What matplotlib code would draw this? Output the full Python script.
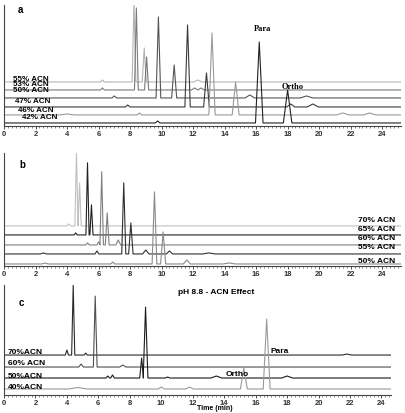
# Chromatograms of the para/ortho separation at different ACN contents
# (a, b) and the pH 8.8 ACN effect (c).

import matplotlib
matplotlib.use('Agg')
import matplotlib.pyplot as plt
from matplotlib.ticker import MultipleLocator
from matplotlib import rcParams

rcParams['font.family'] = ['Liberation Sans', 'DejaVu Sans']
rcParams['font.weight'] = 'bold'

# peaks are (retention time in min, height above baseline, half width at base)
a_labels = ['55% ACN', '53% ACN', '50% ACN', '47% ACN', '46% ACN', '42% ACN']
a_offsets = [44, 36, 28, 19, 11, 3]
a_peaks = [
    [(6.25, 2, 0.12), (8.25, 80, 0.12), (8.9, 34, 0.13), (12.3, 2, 0.25)],
    [(6.25, 2, 0.12), (8.4, 82, 0.12), (9.05, 33, 0.13), (12.1, 2, 0.2), (12.5, 2, 0.2)],
    [(7.0, 2, 0.15), (9.8, 81, 0.15), (10.8, 33, 0.16), (15.6, 3, 0.3), (19.2, 2, 0.4)],
    [(7.85, 2, 0.15), (11.65, 82, 0.17), (12.85, 34, 0.18), (18.2, 3, 0.25), (19.6, 3, 0.35)],
    [(4.0, 1, 0.5), (8.6, 2, 0.15), (13.2, 82, 0.2), (14.7, 33, 0.22), (21.5, 2, 0.4), (23.2, 2, 0.4)],
    [(9.75, 2, 0.15), (16.2, 81, 0.24), (18.0, 33, 0.27)],
]
a_colors = ['#b4b4b4', '#7a7a7a', '#555555', '#3a3a3a', '#9a9a9a', '#222222']

b_labels = ['70% ACN', '65% ACN', '60% ACN', '55% ACN', '50% ACN']
b_offsets = [40, 31, 21, 12, 2]
b_peaks = [
    [(4.1, 2, 0.12), (4.6, 73, 0.1), (4.8, 43, 0.1)],
    [(4.55, 2, 0.1), (5.3, 72, 0.1), (5.55, 30, 0.1)],
    [(5.3, 2, 0.12), (6.0, 3, 0.1), (6.2, 73, 0.11), (6.55, 32, 0.12), (7.25, 5, 0.15)],
    [(2.5, 1, 0.2), (5.9, 3, 0.12), (7.6, 71, 0.13), (8.05, 31, 0.14), (9.0, 4, 0.2), (10.5, 3, 0.2), (13.0, 1, 0.4)],
    [(2.6, 1, 0.2), (6.9, 2, 0.12), (9.55, 72, 0.15), (10.1, 32, 0.16), (11.6, 4, 0.22), (14.3, 1, 0.4)],
]
b_colors = ['#c0c0c0', '#202020', '#808080', '#303030', '#8a8a8a']

c_labels = ['70%ACN', '60% ACN', '50%ACN', '40%ACN']
c_offsets = [40, 28, 17, 6]
c_peaks = [
    [(4.0, 5, 0.1), (4.4, 70, 0.1), (5.2, 2, 0.1), (21.8, 1, 0.3)],
    [(4.9, 3, 0.15), (5.8, 71, 0.12), (7.55, 2, 0.2)],
    [(6.6, 2, 0.12), (6.9, 3, 0.12), (8.75, 20, 0.12), (9.0, 71, 0.15), (10.4, 1, 0.15), (13.5, 2, 0.35), (18.0, 2, 0.35)],
    [(4.7, 1.5, 0.6), (10.0, 2, 0.2), (11.8, 2, 0.25), (15.25, 21, 0.22), (16.7, 70, 0.22)],
]
c_colors = ['#2a2a2a', '#505050', '#1a1a1a', '#9a9a9a']


def trace(peaks, offset, tmax):
    xs = [0.0]
    ys = [offset]
    for t, h, w in sorted(peaks):
        xs += [t - w, t, t + w]
        ys += [offset, offset + h, offset]
    xs.append(tmax)
    ys.append(offset)
    return xs, ys


def setup(ax, xmax, ymax):
    ax.set_xlim(0, xmax)
    ax.set_ylim(0, ymax)
    for s in ['top', 'right']:
        ax.spines[s].set_visible(False)
    ax.spines['left'].set_linewidth(0.8)
    ax.spines['bottom'].set_linewidth(0.8)
    ax.spines['left'].set_color('#444444')
    ax.spines['bottom'].set_color('#444444')
    ax.set_yticks([])
    ax.xaxis.set_major_locator(MultipleLocator(2))
    ax.xaxis.set_minor_locator(MultipleLocator(0.25))
    ax.tick_params(axis='x', which='major', length=2.5, width=0.6, pad=1,
                   labelsize=5.5, colors='#333333')
    ax.tick_params(axis='x', which='minor', length=1.5, width=0.5, colors='#555555')
    for lab in ax.get_xticklabels():
        lab.set_fontweight('bold')


fig = plt.figure(figsize=(4.06, 4.13), dpi=100)
ax_a = fig.add_axes([0.00985, 0.695, 0.978, 0.293])
ax_b = fig.add_axes([0.00985, 0.356, 0.978, 0.274])
ax_c = fig.add_axes([0.00985, 0.0436, 0.953, 0.266])

# panel a
setup(ax_a, 25.2, 121)
for peaks, off, col in zip(a_peaks, a_offsets, a_colors):
    xs, ys = trace(peaks, off, 25.2)
    ax_a.plot(xs, ys, '-', color=col, lw=0.8, clip_on=True)
a_lab_x = [0.57, 0.57, 0.57, 0.7, 0.9, 1.14]
a_lab_y = [46.5, 41, 35.5, 24, 15, 8]
for lab, x, y in zip(a_labels, a_lab_x, a_lab_y):
    ax_a.text(x, y, lab, fontsize=5.8, fontweight='bold', va='center')
ax_a.text(0.9, 116, 'a', fontsize=7, fontweight='bold', va='center')
ax_a.text(16.4, 97, 'Para', fontsize=6, fontweight='bold', family='Liberation Serif',
          ha='center', va='center')
ax_a.text(18.3, 39, 'Ortho', fontsize=6, fontweight='bold', family='Liberation Serif',
          ha='center', va='center')

# panel b
setup(ax_b, 25.2, 113)
for peaks, off, col in zip(b_peaks, b_offsets, b_colors):
    xs, ys = trace(peaks, off, 25.2)
    ax_b.plot(xs, ys, '-', color=col, lw=0.8)
b_lab_y = [45, 36, 27, 18, 4]
for lab, y in zip(b_labels, b_lab_y):
    ax_b.text(24.8, y, lab, fontsize=6, fontweight='bold', va='center', ha='right')
ax_b.text(0.95, 101, 'b', fontsize=7, fontweight='bold', va='center')

# panel c
setup(ax_c, 24.6, 110)
for peaks, off, col in zip(c_peaks, c_offsets, c_colors):
    xs, ys = trace(peaks, off, 24.6)
    ax_c.plot(xs, ys, '-', color=col, lw=0.8)
c_lab_y = [43, 32, 19, 8]
for lab, y in zip(c_labels, c_lab_y):
    ax_c.text(0.25, y, lab, fontsize=6, fontweight='bold', va='center')
ax_c.text(0.9, 92, 'c', fontsize=7, fontweight='bold', va='center')
ax_c.text(17.5, 44, 'Para', fontsize=6, fontweight='bold', ha='center', va='center')
ax_c.text(14.8, 21, 'Ortho', fontsize=6, fontweight='bold', ha='center', va='center')

fig.text(216 / 406, 1 - 293 / 413, 'pH 8.8 - ACN Effect', fontsize=6, fontweight='bold',
         ha='center', va='center')
fig.text(215 / 406, 1 - 409 / 413, 'Time (min)', fontsize=5, fontweight='bold',
         ha='center', va='center')

fig.savefig('out.png', dpi=100)
